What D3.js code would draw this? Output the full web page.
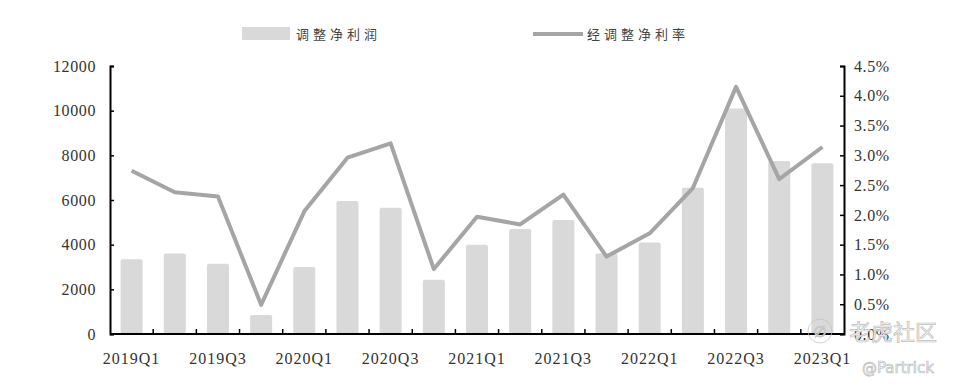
<!DOCTYPE html>
<html>
<head>
<meta charset="utf-8">
<script src="https://cdn.jsdelivr.net/npm/d3@7"></script>
<style>
  body { margin: 0; background: #fff; }
  svg { display: block; }
  .tick text { font-family: "Liberation Serif", "Times New Roman", serif; font-size: 16px; fill: #333; letter-spacing: 0.6px; }
</style>
</head>
<body>
<div id="chart"></div>
<script>
const width = 958;
const height = 388;

// quarters shown on the x axis
const quarters = ["2019Q1","2019Q2","2019Q3","2019Q4","2020Q1","2020Q2","2020Q3","2020Q4",
  "2021Q1","2021Q2","2021Q3","2021Q4","2022Q1","2022Q2","2022Q3","2022Q4","2023Q1"];
// 调整净利润 (bars, left axis)
const adjProfit = [3350, 3600, 3150, 850, 3000, 5950, 5650, 2430,
  4000, 4700, 5100, 3600, 4100, 6550, 10100, 7750, 7650];
// 经调整净利率 (line, right axis, %)
const adjMargin = [2.74, 2.38, 2.31, 0.49, 2.06, 2.96, 3.20, 1.09,
  1.97, 1.84, 2.34, 1.30, 1.69, 2.45, 4.15, 2.60, 3.14];
const leftTicks = [0, 2000, 4000, 6000, 8000, 10000, 12000];
const rightTicks = [0, 0.5, 1, 1.5, 2, 2.5, 3, 3.5, 4, 4.5];

const margin = { left: 110, right: 114, top: 66, bottom: 54 };

const svg = d3.select("#chart").append("svg")
    .attr("width", width)
    .attr("height", height);

const x = d3.scaleBand()
    .domain(quarters)
    .range([margin.left, width - margin.right])
    .paddingInner(0.49)
    .paddingOuter(0.245);

const yL = d3.scaleLinear().domain([0, 12000]).range([height - margin.bottom, margin.top]);
const yR = d3.scaleLinear().domain([0, 4.5]).range([height - margin.bottom, margin.top]);

// bars
svg.append("g").selectAll("rect")
    .data(adjProfit)
    .enter()
    .append("rect")
    .attr("x", (d, i) => x(quarters[i]))
    .attr("y", d => yL(d))
    .attr("width", x.bandwidth())
    .attr("height", d => yL(0) - yL(d))
    .attr("rx", 2)
    .style("fill", "#d9d9d9");

// line
const line = d3.line()
    .x((d, i) => x(quarters[i]) + x.bandwidth() / 2)
    .y(d => yR(d));

svg.append("path")
    .datum(adjMargin)
    .attr("d", line)
    .style("fill", "none")
    .style("stroke", "#a5a5a5")
    .style("stroke-width", 4)
    .style("stroke-linejoin", "round");

// left axis
const leftAxis = svg.append("g")
    .attr("transform", `translate(${margin.left},0)`)
    .call(d3.axisLeft(yL).tickValues(leftTicks).tickSizeInner(-4).tickSizeOuter(-4).tickPadding(14)
        .tickFormat(d3.format("d")));

// right axis
const rightAxis = svg.append("g")
    .attr("transform", `translate(${width - margin.right},0)`)
    .call(d3.axisRight(yR).tickValues(rightTicks).tickSizeInner(-4).tickSizeOuter(-4).tickPadding(10)
        .tickFormat(d => d.toFixed(1) + "%"));

// x axis: ticks on band boundaries, pointing up
const xAxis = svg.append("g")
    .attr("transform", `translate(0,${yL(0)})`);
xAxis.append("line")
    .attr("x1", margin.left).attr("x2", width - margin.right)
    .style("stroke", "#000").style("stroke-width", 2);
xAxis.selectAll(".bound")
    .data(quarters.slice(1))
    .enter()
    .append("line")
    .attr("x1", d => x(d) - x.step() * x.paddingInner() / 2)
    .attr("x2", d => x(d) - x.step() * x.paddingInner() / 2)
    .attr("y1", 0).attr("y2", -5)
    .style("stroke", "#000").style("stroke-width", 1.5);
xAxis.selectAll(".lbl")
    .data(quarters.filter((d, i) => i % 2 === 0))
    .enter()
    .append("text")
    .attr("x", d => x(d) + x.bandwidth() / 2)
    .attr("y", 30)
    .attr("text-anchor", "middle")
    .style("font-family", "'Liberation Serif', serif")
    .style("font-size", "16px")
    .style("letter-spacing", "1px")
    .style("fill", "#333")
    .text(d => d);

[leftAxis, rightAxis].forEach(g => {
    g.select(".domain").style("stroke", "#000").style("stroke-width", 2);
    g.selectAll(".tick line").style("stroke", "#000").style("stroke-width", 1.5);
});

// legend
const legend = svg.append("g")
    .style("font-family", "'Noto Sans CJK SC', sans-serif")
    .style("font-size", "13px")
    .style("fill", "#444");
legend.append("rect")
    .attr("x", 242).attr("y", 27).attr("width", 48).attr("height", 13)
    .style("fill", "#d9d9d9");
legend.append("text")
    .attr("x", 296).attr("y", 38.5)
    .style("letter-spacing", "4px")
    .text("调整净利润");
legend.append("line")
    .attr("x1", 533).attr("x2", 583).attr("y1", 34).attr("y2", 34)
    .style("stroke", "#a5a5a5").style("stroke-width", 4);
legend.append("text")
    .attr("x", 587).attr("y", 38.5)
    .style("letter-spacing", "4px")
    .text("经调整净利率");

// watermark
const wm = svg.append("g")
    .style("fill", "#f4f4f4")
    .style("stroke", "#c0c0c0")
    .style("stroke-width", 0.7);
wm.append("circle").attr("cx", 820).attr("cy", 331).attr("r", 12).style("fill", "none");
wm.append("text")
    .attr("x", 820).attr("y", 337)
    .attr("text-anchor", "middle")
    .style("font-family", "'DejaVu Sans', sans-serif")
    .style("font-size", "15px")
    .style("font-style", "italic")
    .text("∅");
wm.append("text")
    .attr("x", 849).attr("y", 340)
    .style("font-family", "'Noto Sans CJK SC', sans-serif")
    .style("font-size", "22px")
    .text("老虎社区");
wm.append("text")
    .attr("x", 862).attr("y", 373)
    .style("font-family", "'DejaVu Sans', sans-serif")
    .style("font-size", "15px")
    .text("@Partrick");
</script>
</body>
</html>
